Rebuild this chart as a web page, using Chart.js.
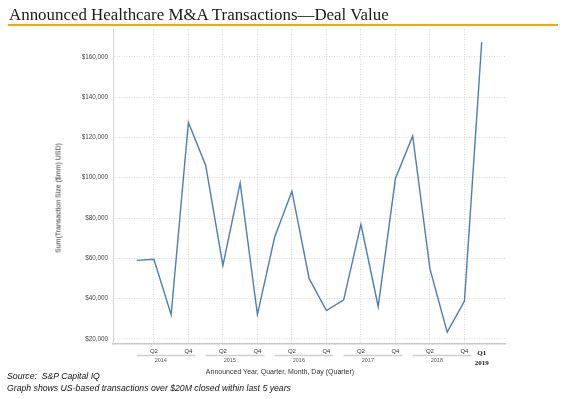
<!DOCTYPE html>
<html>
<head>
<meta charset="utf-8">
<script src="https://cdn.jsdelivr.net/npm/chart.js@4"></script>
<style>
  html, body { margin:0; padding:0; background:#fff; }
  #wrap { position:relative; width:567px; height:399px; overflow:hidden; }
  #c { position:absolute; left:0; top:0; }
  .t { position:absolute; white-space:nowrap; }
  #title { left:9px; top:4.5px; font-family:"Liberation Serif", "Times New Roman", serif; font-size:16.9px; color:#1a1a1a; }
  #rule { position:absolute; left:8px; top:23.5px; width:550px; height:2px; background:#f5a800; }
  #ytitle { left:58px; top:197.5px; font-family:"Liberation Sans", Arial, sans-serif; font-size:7px; color:#333;
            transform:translate(-50%,-50%) rotate(-90deg); }
  #xtitle { left:280px; top:371px; font-family:"Liberation Sans", Arial, sans-serif; font-size:7px; color:#333;
            transform:translate(-50%,-50%); }
  #src1 { left:7px; top:371px; font-family:"Liberation Sans", Arial, sans-serif; font-style:italic; font-size:8.7px; color:#111; }
  #src2 { left:7px; top:382.5px; font-family:"Liberation Sans", Arial, sans-serif; font-style:italic; font-size:8.7px; color:#111; }
</style>
</head>
<body>
<div id="wrap">
  <canvas id="c" width="567" height="399"></canvas>
  <div class="t" id="title">Announced Healthcare M&amp;A Transactions—Deal Value</div>
  <div id="rule"></div>
  <div class="t" id="ytitle">Sum(Transaction Size ($mm) USD)</div>
  <div class="t" id="xtitle">Announced Year, Quarter, Month, Day (Quarter)</div>
  <div class="t" id="src1">Source:&nbsp; S&amp;P Capital IQ</div>
  <div class="t" id="src2">Graph shows US-based transactions over $20M closed within last 5 years</div>
</div>
<script>
// ---- data ----
const years = ['2014','2015','2016','2017','2018','2019'];
const quarters = ['Q1','Q2','Q3','Q4'];
const periods = [
  '2014 Q1','2014 Q2','2014 Q3','2014 Q4',
  '2015 Q1','2015 Q2','2015 Q3','2015 Q4',
  '2016 Q1','2016 Q2','2016 Q3','2016 Q4',
  '2017 Q1','2017 Q2','2017 Q3','2017 Q4',
  '2018 Q1','2018 Q2','2018 Q3','2018 Q4',
  '2019 Q1'
];
const dealValue = [
  59000, 59500, 32000, 127400,
  106200, 56500, 97400, 32100,
  70600, 93300, 49900, 34100,
  39400, 76900, 36100, 99600,
  120700, 54800, 23400, 38800,
  167200
];
const yTicks = [20000, 40000, 60000, 80000, 100000, 120000, 140000, 160000];

const points = periods.map((p, i) => ({ x: i, y: dealValue[i] }));
const quarterOf = i => periods[i].split(' ')[1];
const yearOf = i => periods[i].split(' ')[0];
const xTickIdx = periods.map((p, i) => i).filter(i => (quarterOf(i) === 'Q2' || quarterOf(i) === 'Q4'));

const groupPlugin = {
  id: 'groups',
  afterDraw(chart) {
    const ctx = chart.ctx;
    const xs = chart.scales.x;
    ctx.save();
    const fullYears = years.filter(y => periods.filter(p => p.startsWith(y)).length === 4);
    fullYears.forEach(y => {
      const idx = periods.map((p, i) => i).filter(i => yearOf(i) === y);
      const a = xs.getPixelForValue(idx[0]);
      const b = xs.getPixelForValue(idx[idx.length - 1] + 0.4);
      ctx.strokeStyle = '#cfcfcf';
      ctx.lineWidth = 1.5;
      ctx.beginPath();
      ctx.moveTo(a, 355.5);
      ctx.lineTo(b, 355.5);
      ctx.stroke();
      ctx.fillStyle = '#555';
      ctx.font = '5.5px "Liberation Sans", Arial, sans-serif';
      ctx.textAlign = 'center';
      ctx.textBaseline = 'middle';
      ctx.fillText(y, xs.getPixelForValue(idx[0] + 1.4), 360.5);
    });
    // partial (last) year
    const lastIdx = periods.length - 1;
    const lx = xs.getPixelForValue(lastIdx);
    ctx.fillStyle = '#111';
    ctx.font = 'bold 7px "Liberation Serif", "Times New Roman", serif';
    ctx.textAlign = 'center';
    ctx.textBaseline = 'middle';
    ctx.fillText(quarterOf(lastIdx), lx, 352.7);
    ctx.fillText(yearOf(lastIdx), lx, 363.3);
    ctx.restore();
  }
};

new Chart(document.getElementById('c'), {
  type: 'line',
  data: {
    datasets: [{
      data: points,
      borderColor: '#4a7eb9',
      borderWidth: 1.4,
      pointRadius: 0,
      tension: 0,
      fill: false
    }]
  },
  options: {
    responsive: false,
    animation: false,
    events: [],
    layout: { padding: { top: 29, right: 62, left: 0, bottom: 35 } },
    plugins: { legend: { display: false }, tooltip: { enabled: false } },
    scales: {
      x: {
        type: 'linear',
        min: -1.37,
        max: periods.length - 1 + 1.35,
        afterBuildTicks: s => { s.ticks = xTickIdx.map(v => ({ value: v })); },
        afterFit: s => { s.height = 20; },
        ticks: {
          autoSkip: false,
          maxRotation: 0,
          padding: 3.5,
          color: '#333',
          font: { family: '"Liberation Sans", Arial, sans-serif', size: 6 },
          callback: v => quarterOf(v)
        },
        grid: { color: '#dcdcdc', lineWidth: 1, drawTicks: false },
        border: { display: true, color: '#c8c8c8', width: 1.5, dash: [1, 1.5] }
      },
      y: {
        min: 17500,
        max: 173800,
        afterBuildTicks: s => { s.ticks = yTicks.map(v => ({ value: v })); },
        afterFit: s => { s.width = 113; },
        ticks: {
          padding: 5,
          color: '#444',
          font: { family: '"Liberation Sans", Arial, sans-serif', size: 6.3 },
          callback: v => '$' + v.toLocaleString('en-US')
        },
        grid: { color: '#dcdcdc', lineWidth: 1, drawTicks: false },
        border: { display: true, color: '#d4d4d4', width: 1, dash: [1, 1.5] }
      }
    }
  },
  plugins: [groupPlugin]
});
</script>
</body>
</html>
